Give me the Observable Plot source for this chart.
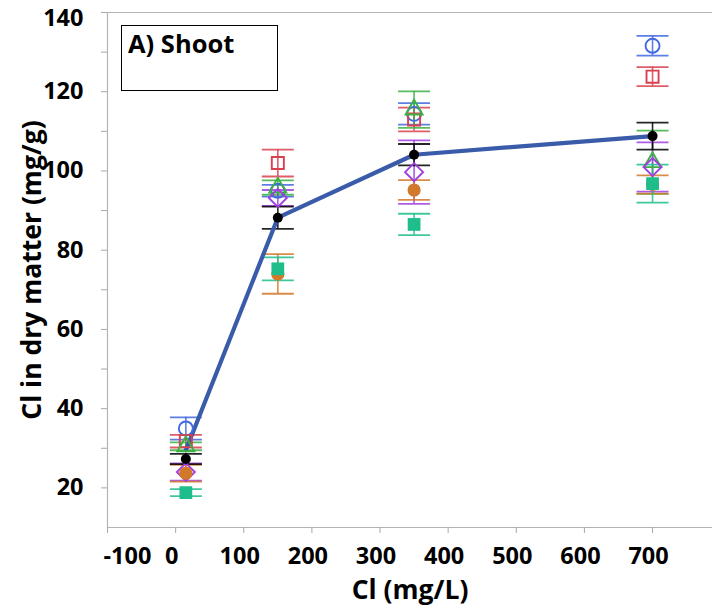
<!DOCTYPE html>
<html>
<head>
<meta charset="utf-8">
<script src="https://cdn.jsdelivr.net/npm/d3@7"></script>
<script src="https://cdn.jsdelivr.net/npm/@observablehq/plot@0.6"></script>
<style>
  html, body { margin: 0; padding: 0; background: #fff; }
  #wrap { position: relative; width: 712px; height: 608px; font-family: "Open Sans", sans-serif; }
  #wrap svg { position: absolute; left: 0; top: 0; }
  #box { position: absolute; left: 121px; top: 25px; width: 157px; height: 66px; border: 1.5px solid #000; box-sizing: border-box; z-index: 2; background: #fff; }
  #box span { position: absolute; left: 6px; top: 0px; font-size: 25.5px; font-weight: 700; color: #000; white-space: nowrap; }
</style>
</head>
<body>
<div id="wrap"><div id="box"><span>A) Shoot</span></div></div>
<script>
// ---- data ----
const xValues = [15, 150, 350, 700];

const blueValues   = [35.0, 95.0, 114.4, 131.6];
const blueErr      = [2.8, 1.5, 2.7, 2.5];
const redValues    = [31.8, 102.0, 113.0, 123.8];
const redErr       = [1.6, 3.4, 3.0, 2.4];
const greenValues  = [30.5, 95.8, 115.5, 102.2];
const greenErr     = [1.0, 1.8, 4.6, 8.0];
const purpleValues = [24.0, 93.2, 99.7, 101.0];
const purpleErr    = [2.2, 2.0, 8.0, 6.2];
const orangeValues = [23.7, 74.0, 95.2, 96.6];
const orangeErr    = [2.1, 5.0, 2.5, 2.3];
const tealValues   = [18.8, 75.3, 86.5, 96.8];
const tealErr      = [0.9, 2.9, 2.7, 4.8];
const blackValues  = [27.3, 88.2, 104.1, 108.8];
const blackErr     = [1.3, 2.8, 2.7, 3.4];

const lineValues   = [29.5, 88.2, 104.1, 108.8];

const xTicks = [-100, 0, 100, 200, 300, 400, 500, 600, 700];
const yTicks = [20, 40, 60, 80, 100, 120, 140];
const yMinorTicks = [30, 50, 70, 90, 110, 130];

// ---- series styling ----
const seriesDefs = [
  {name: "S1", values: blueValues,   err: blueErr,   color: "#4169e1", symbol: "circle",   r: 7,   filled: false},
  {name: "S2", values: redValues,    err: redErr,    color: "#d9404f", symbol: "square",   r: 6.8, filled: false},
  {name: "S3", values: greenValues,  err: greenErr,  color: "#3cb043", symbol: "triangle", r: 6.3, filled: false},
  {name: "S4", values: purpleValues, err: purpleErr, color: "#a03ee0", symbol: "diamond2", r: 8.1, filled: false},
  {name: "S5", values: orangeValues, err: orangeErr, color: "#d2782a", symbol: "circle",   r: 6.6, filled: true},
  {name: "S6", values: tealValues,   err: tealErr,   color: "#20bd8c", symbol: "square",   r: 7.2, filled: true},
  {name: "S7", values: blackValues,  err: blackErr,  color: "#000000", symbol: "circle",   r: 5,   filled: true}
];

const rows = seriesDefs.flatMap(s => xValues.map((x, i) => ({
  series: s.name, x, y: s.values[i], lo: s.values[i] - s.err[i], hi: s.values[i] + s.err[i]
})));
const lineRows = xValues.map((x, i) => ({x, y: lineValues[i]}));

const capSymbol = {
  draw(context) { context.moveTo(-16, 0); context.lineTo(16, 0); }
};

const marks = [];
// axis lines
marks.push(Plot.ruleY([140], {stroke: "#b4b4b4", strokeWidth: 1}));
marks.push(Plot.ruleY([10], {stroke: "#b4b4b4", strokeWidth: 1.2}));
marks.push(Plot.ruleX([-100], {stroke: "#b4b4b4", strokeWidth: 1.2}));

// error bars
for (const s of seriesDefs) {
  const d = rows.filter(r => r.series === s.name);
  marks.push(Plot.ruleX(d, {x: "x", y1: "lo", y2: "hi", stroke: s.color, strokeWidth: 1.6, strokeOpacity: 0.85}));
  marks.push(Plot.dot(d, {x: "x", y: "hi", symbol: capSymbol, stroke: s.color, strokeWidth: 1.8, strokeOpacity: 0.85, r: 16}));
  marks.push(Plot.dot(d, {x: "x", y: "lo", symbol: capSymbol, stroke: s.color, strokeWidth: 1.8, strokeOpacity: 0.85, r: 16}));
}

// connecting line
marks.push(Plot.line(lineRows, {x: "x", y: "y", stroke: "#3a5aaa", strokeWidth: 4.2, curve: "linear"}));

// markers
for (const s of seriesDefs) {
  const d = rows.filter(r => r.series === s.name);
  marks.push(Plot.dot(d, {
    x: "x", y: "y", symbol: s.symbol, r: s.r,
    fill: s.filled ? s.color : "none",
    stroke: s.filled ? "none" : s.color,
    strokeWidth: 1.9
  }));
}

// axes
const fmt = d => String(d);
const tickFont = {fontSize: 23.5, fontWeight: 700, fill: "#000"};
// y tick marks (major + minor), no labels
marks.push(Plot.axisY({ticks: [...yTicks, ...yMinorTicks], tickSize: 6, tickFormat: () => "", stroke: "#a8a8a8", label: null}));
// y labels
marks.push(Plot.axisY({ticks: yTicks.filter(t => t !== 140), tickSize: 0, tickPadding: 24, tickFormat: fmt, label: null, ...tickFont, color: "#000"}));
marks.push(Plot.axisY({ticks: [140], tickSize: 0, tickPadding: 24, tickFormat: fmt, label: null, dy: 6, ...tickFont, color: "#000"}));
// x tick marks, no labels
marks.push(Plot.axisX({ticks: xTicks, tickSize: 6, tickFormat: () => "", stroke: "#a8a8a8", label: null}));
// x labels
marks.push(Plot.axisX({ticks: xTicks.filter(t => t !== -100), tickSize: 0, tickPadding: 20, tickFormat: fmt, label: null, dx: -4, ...tickFont, color: "#000"}));
marks.push(Plot.axisX({ticks: [-100], tickSize: 0, tickPadding: 20, tickFormat: fmt, label: null, dx: 20, ...tickFont, color: "#000"}));

// axis titles
marks.push(Plot.text(["Cl (mg/L)"], {frameAnchor: "bottom", dy: 63, lineAnchor: "middle", textAnchor: "middle", text: d => d, fontSize: 26.5, fontWeight: 700, fill: "#000"}));
marks.push(Plot.text(["Cl in dry matter (mg/g)"], {frameAnchor: "left", dx: -75, rotate: -90, lineAnchor: "middle", textAnchor: "middle", text: d => d, fontSize: 26.5, fontWeight: 700, fill: "#000"}));

const chart = Plot.plot({
  width: 712,
  height: 608,
  marginLeft: 107,
  marginRight: 0,
  marginTop: 12,
  marginBottom: 81,
  style: {fontFamily: "'Open Sans', sans-serif", background: "#fff", overflow: "visible"},
  x: {domain: [-100, 788], axis: null},
  y: {domain: [10, 140], axis: null},
  marks
});

document.getElementById("wrap").prepend(chart);
</script>
</body>
</html>
